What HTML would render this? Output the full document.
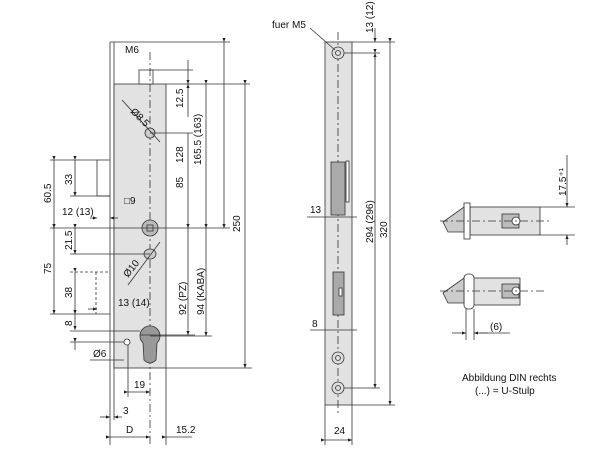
<!DOCTYPE html>
<html><head><meta charset="utf-8"><style>
html,body{margin:0;padding:0;background:#fff;width:600px;height:450px;overflow:hidden}
svg{display:block}
text{font-family:"Liberation Sans",sans-serif;fill:#111}
.t{font-size:10px}
</style></head><body>
<svg width="600" height="450" viewBox="0 0 600 450" xmlns="http://www.w3.org/2000/svg">
<defs>
<marker id="a" markerWidth="6" markerHeight="6" refX="5" refY="3" orient="auto"><path d="M0,1 L5,3 L0,5Z" fill="#222"/></marker>
</defs>
<g stroke="#333" stroke-width="0.8" fill="none">
<line x1="110" y1="42" x2="110" y2="445"/>
<line x1="114" y1="42" x2="114" y2="420"/>
<line x1="110" y1="42" x2="230" y2="42"/>
<rect x="114" y="84" width="52" height="284" fill="#e2e2e2"/>
<rect x="139" y="70" width="14" height="14" fill="#fff"/>
<line x1="97" y1="160" x2="110" y2="160"/><line x1="97" y1="160" x2="97" y2="196"/><line x1="97" y1="196" x2="110" y2="196"/>
<line x1="150" y1="52" x2="150" y2="445" stroke-dasharray="8,3,2,3"/>
<circle cx="150" cy="133" r="5" fill="#ccc"/>
<circle cx="150" cy="228" r="8" fill="#bbb"/><rect x="147" y="225" width="6" height="6"/>
<ellipse cx="150" cy="254" rx="6" ry="5" fill="#ccc"/>
<path d="M143,343 A10,10 0 1 1 157,343 L156,360 Q150,366 144,360Z" fill="#999"/>
<circle cx="127" cy="342" r="3" fill="#fff"/>
<line x1="150" y1="70" x2="193" y2="70"/><line x1="166" y1="84" x2="250" y2="84"/>
<line x1="188" y1="60" x2="188" y2="84" marker-end="url(#a)"/><line x1="188" y1="117" x2="188" y2="84" marker-end="url(#a)"/>
<line x1="150" y1="133" x2="193" y2="133"/>
<line x1="188" y1="133" x2="188" y2="228" marker-end="url(#a)"/>
<line x1="206" y1="84" x2="206" y2="228" marker-end="url(#a)" marker-start="url(#a)"/>
<line x1="224" y1="42" x2="224" y2="228" marker-end="url(#a)" marker-start="url(#a)"/>
<line x1="245" y1="84" x2="245" y2="368" marker-end="url(#a)" marker-start="url(#a)"/>
<line x1="166" y1="368" x2="252" y2="368"/>
<line x1="50" y1="228" x2="230" y2="228"/>
<line x1="188" y1="228" x2="188" y2="335" marker-end="url(#a)"/>
<line x1="206" y1="228" x2="206" y2="336" marker-end="url(#a)"/>
<line x1="140" y1="335" x2="195" y2="335"/><line x1="150" y1="336" x2="212" y2="336"/>
<line x1="50" y1="160" x2="97" y2="160"/>
<line x1="54" y1="160" x2="54" y2="228" marker-end="url(#a)" marker-start="url(#a)"/>
<line x1="75" y1="160" x2="75" y2="196" marker-end="url(#a)" marker-start="url(#a)"/>
<line x1="70" y1="196" x2="110" y2="196"/>
<line x1="90" y1="218" x2="97" y2="218" marker-end="url(#a)"/><line x1="118" y1="218" x2="110" y2="218" marker-end="url(#a)"/>
<line x1="75" y1="228" x2="75" y2="254" marker-end="url(#a)" marker-start="url(#a)"/>
<line x1="70" y1="254" x2="150" y2="254"/>
<line x1="54" y1="228" x2="54" y2="314" marker-end="url(#a)" marker-start="url(#a)"/>
<line x1="50" y1="314" x2="110" y2="314"/>
<line x1="70" y1="272" x2="108" y2="272" stroke-dasharray="3,2"/>
<line x1="96" y1="272" x2="96" y2="314" stroke-dasharray="3,2"/>
<line x1="75" y1="272" x2="75" y2="314" marker-end="url(#a)" marker-start="url(#a)"/>
<line x1="88" y1="309" x2="97" y2="309" marker-end="url(#a)"/>
<line x1="75" y1="314" x2="75" y2="330" marker-end="url(#a)" marker-start="url(#a)"/>
<line x1="70" y1="331" x2="140" y2="331"/><line x1="70" y1="342" x2="124" y2="342"/>
<line x1="75" y1="342" x2="75" y2="350" marker-start="url(#a)"/>
<line x1="90" y1="360" x2="124" y2="360"/>
<line x1="128" y1="345" x2="128" y2="397"/>
<line x1="128" y1="392" x2="150" y2="392" marker-end="url(#a)" marker-start="url(#a)"/>
<line x1="100" y1="417" x2="110" y2="417" marker-end="url(#a)"/><line x1="122" y1="417" x2="114" y2="417" marker-end="url(#a)"/>
<line x1="110" y1="437" x2="150" y2="437" marker-end="url(#a)" marker-start="url(#a)"/>
<line x1="166" y1="368" x2="166" y2="445"/>
<line x1="166" y1="437" x2="192" y2="437" marker-start="url(#a)"/>
<line x1="122" y1="100" x2="160" y2="142"/>
<line x1="128" y1="285" x2="160" y2="242"/>
<rect x="325" y="42" width="27" height="363" fill="#e2e2e2"/>
<line x1="338" y1="32" x2="338" y2="415" stroke-dasharray="8,3,2,3"/>
<circle cx="338" cy="53" r="6" fill="#ddd"/><circle cx="338" cy="53" r="2.5"/>
<circle cx="338" cy="358" r="6" fill="#ddd"/><circle cx="338" cy="358" r="2.5"/>
<circle cx="338" cy="388" r="6" fill="#ddd"/><circle cx="338" cy="388" r="2.5"/>
<rect x="331" y="162" width="14" height="53" fill="#aaa"/><rect x="346" y="161" width="3" height="41" fill="#fff"/>
<rect x="333" y="272" width="11" height="43" fill="#aaa"/><rect x="339" y="288" width="3" height="8" fill="#fff"/>
<line x1="310" y1="28" x2="335" y2="50"/>
<line x1="352" y1="42" x2="395" y2="42"/><line x1="344" y1="53" x2="380" y2="53"/>
<line x1="375" y1="28" x2="375" y2="42" marker-end="url(#a)"/><line x1="375" y1="60" x2="375" y2="53" marker-end="url(#a)"/>
<line x1="375" y1="53" x2="375" y2="388" marker-end="url(#a)" marker-start="url(#a)"/>
<line x1="344" y1="388" x2="380" y2="388"/>
<line x1="390" y1="42" x2="390" y2="405" marker-end="url(#a)" marker-start="url(#a)"/>
<line x1="352" y1="405" x2="395" y2="405"/>
<line x1="307" y1="217" x2="357" y2="217"/>
<line x1="310" y1="330" x2="357" y2="330"/>
<line x1="325" y1="405" x2="325" y2="445"/><line x1="352" y1="405" x2="352" y2="445"/>
<line x1="325" y1="440" x2="352" y2="440" marker-end="url(#a)" marker-start="url(#a)"/>
<rect x="470" y="207" width="70" height="28" fill="#e2e2e2"/>
<rect x="464" y="203" width="6" height="36" fill="#fff"/>
<path d="M443,222 L464,207 L464,232 L448,232 L445,226Z" fill="#ccc"/>
<rect x="502" y="214" width="17" height="14" fill="#bbb"/><circle cx="516" cy="221" r="4" fill="#fff"/>
<line x1="440" y1="221" x2="550" y2="221" stroke-dasharray="8,3,2,3"/>
<line x1="540" y1="207" x2="575" y2="207"/><line x1="540" y1="235" x2="575" y2="235"/>
<line x1="567" y1="155" x2="567" y2="207" marker-end="url(#a)"/><line x1="567" y1="245" x2="567" y2="235" marker-end="url(#a)"/>
<rect x="470" y="278" width="50" height="27" fill="#e2e2e2"/>
<rect x="464" y="274" width="10" height="35" rx="4" fill="#fff"/>
<path d="M443,293 L464,278 L464,303 L448,303 L445,297Z" fill="#ccc"/>
<rect x="502" y="284" width="17" height="14" fill="#bbb"/><circle cx="516" cy="291" r="4" fill="#fff"/>
<line x1="440" y1="291" x2="545" y2="291" stroke-dasharray="8,3,2,3"/>
<line x1="466" y1="309" x2="466" y2="340"/><line x1="474" y1="309" x2="474" y2="340"/>
<line x1="452" y1="333" x2="466" y2="333" marker-end="url(#a)"/><line x1="488" y1="333" x2="474" y2="333" marker-end="url(#a)"/>
<line x1="480" y1="333" x2="510" y2="333"/>
</g>
<text class="t" x="125" y="53">M6</text>
<g class="t">
<text transform="translate(183,108) rotate(-90)">12.5</text>
<text transform="translate(183,163) rotate(-90)">128</text>
<text transform="translate(183,188) rotate(-90)">85</text>
<text transform="translate(201,165) rotate(-90)">165.5 (163)</text>
<text transform="translate(240,232) rotate(-90)">250</text>
<text transform="translate(186,315) rotate(-90)">92 (PZ)</text>
<text transform="translate(204,315) rotate(-90)">94 (KABA)</text>
<text transform="translate(51,203) rotate(-90)">60.5</text>
<text transform="translate(72,185) rotate(-90)">33</text>
<text transform="translate(72,250) rotate(-90)">21.5</text>
<text transform="translate(51,274) rotate(-90)">75</text>
<text transform="translate(72,298) rotate(-90)">38</text>
<text transform="translate(72,326) rotate(-90)">8</text>
<text transform="translate(130,112) rotate(45)">Ø8.5</text>
<text transform="translate(128,278) rotate(-52)">Ø10</text>
<text x="124" y="204">□9</text>
<text x="62" y="215">12 (13)</text>
<text x="118" y="306">13 (14)</text>
<text x="93" y="357">Ø6</text>
<text x="134" y="388">19</text>
<text x="123" y="414">3</text>
<text x="126" y="433">D</text>
<text x="176" y="433">15.2</text>
<text x="272" y="28">fuer M5</text>
<text transform="translate(373,33) rotate(-90)">13 (12)</text>
<text transform="translate(373,243) rotate(-90)">294 (296)</text>
<text transform="translate(387,238) rotate(-90)">320</text>
<text x="310" y="213">13</text>
<text x="312" y="327">8</text>
<text x="334" y="434">24</text>
<text transform="translate(566,196) rotate(-90)">17.5⁺¹</text>
<text x="490" y="330">(6)</text>
<text x="462" y="381">Abbildung DIN rechts</text>
<text x="475" y="394">(...) = U-Stulp</text>
</g>
</svg>
</body></html>
